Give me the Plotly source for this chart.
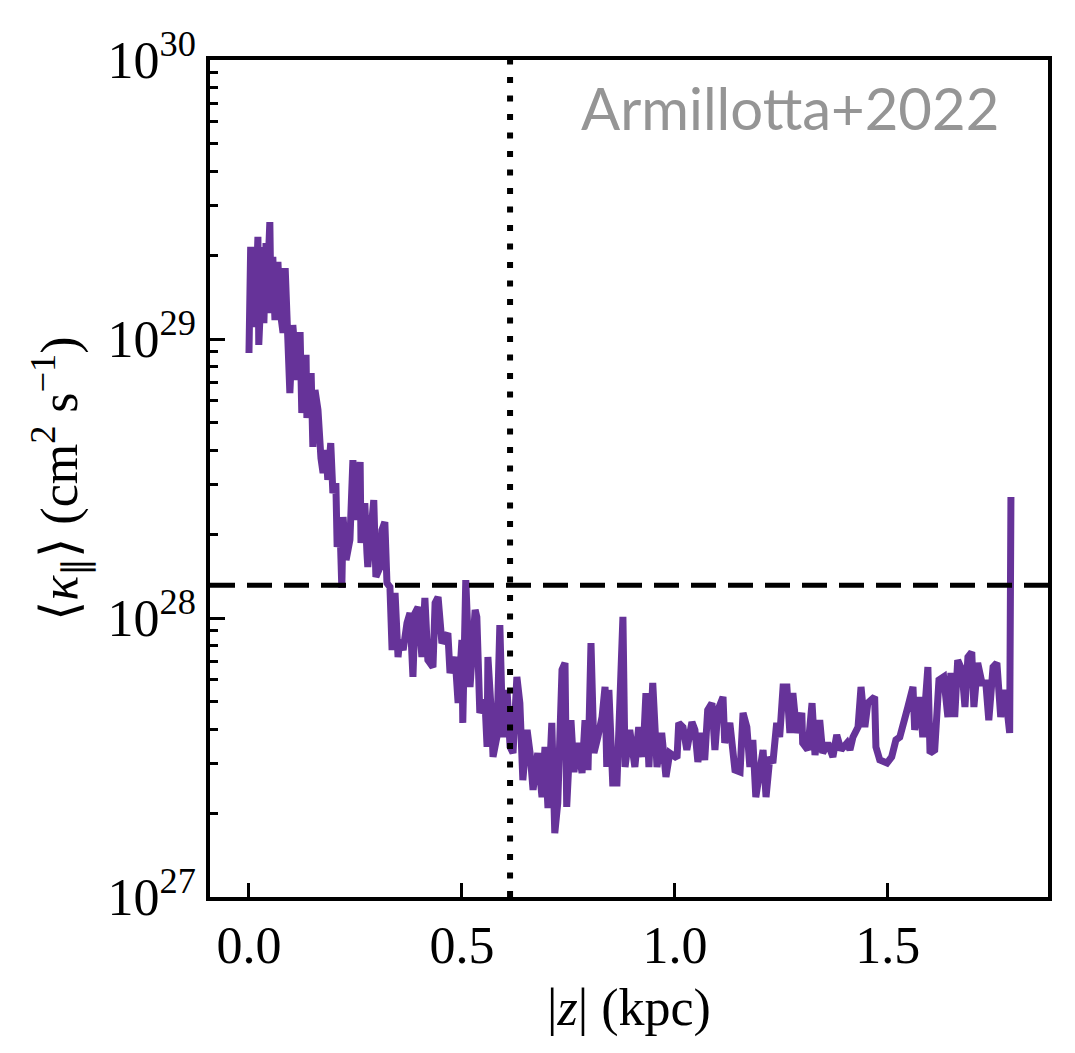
import plotly.graph_objects as go

# |z| in kpc
z_kpc = [
    0.000, 0.004, 0.014, 0.021, 0.023, 0.033, 0.035, 0.040, 0.042, 0.049,
    0.052, 0.056, 0.061, 0.068, 0.073, 0.080, 0.085, 0.089, 0.096, 0.103,
    0.113, 0.120, 0.124, 0.134, 0.136, 0.146, 0.150, 0.155, 0.162, 0.169,
    0.174, 0.181, 0.185, 0.192, 0.197, 0.204, 0.207, 0.214, 0.218, 0.221,
    0.228, 0.237, 0.244, 0.251, 0.261, 0.263, 0.272, 0.277, 0.279, 0.293,
    0.298, 0.308, 0.312, 0.319, 0.324, 0.331, 0.336,
    0.343, 0.350, 0.354, 0.362, 0.371, 0.378, 0.385, 0.390, 0.397, 0.406,
    0.413, 0.420, 0.432, 0.437, 0.444, 0.453, 0.467, 0.472, 0.484, 0.491,
    0.500, 0.502, 0.509, 0.519, 0.531, 0.535, 0.542, 0.554, 0.559, 0.561,
    0.570, 0.573, 0.582, 0.589, 0.596, 0.606, 0.613, 0.620, 0.629, 0.636,
    0.643, 0.653, 0.660, 0.667, 0.678, 0.688, 0.695, 0.702, 0.711, 0.718,
    0.725, 0.735, 0.742, 0.746, 0.756, 0.763, 0.772, 0.782, 0.789, 0.796,
    0.803, 0.810, 0.819, 0.829, 0.836, 0.840, 0.845, 0.854, 0.864, 0.869,
    0.878, 0.883, 0.894, 0.906, 0.915, 0.925, 0.932, 0.939, 0.948, 0.958,
    0.969, 0.979, 0.988, 1.005, 1.009, 1.019, 1.028, 1.040, 1.047, 1.054,
    1.063, 1.070, 1.077, 1.087, 1.094, 1.101, 1.113, 1.117, 1.129, 1.141,
    1.153, 1.160, 1.169, 1.176, 1.183, 1.190, 1.200, 1.207, 1.214, 1.223,
    1.230, 1.239, 1.246, 1.254, 1.263, 1.270, 1.277, 1.286,
    1.298, 1.300, 1.312, 1.322, 1.329, 1.340, 1.347, 1.359, 1.371, 1.380,
    1.390, 1.404, 1.411, 1.418, 1.430, 1.437, 1.446, 1.453, 1.469, 1.472,
    1.481, 1.498, 1.509, 1.519, 1.528, 1.538, 1.547, 1.559, 1.563, 1.575,
    1.582, 1.594, 1.599, 1.610, 1.620, 1.631, 1.641, 1.648, 1.657, 1.664,
    1.674, 1.681, 1.688, 1.697, 1.702, 1.711, 1.721, 1.730, 1.737, 1.747,
    1.756, 1.765, 1.775, 1.786, 1.789,
]

# log10 of <kappa_parallel> in cm^2 s^-1
log_kappa = [
    28.950, 29.330, 29.043, 29.366, 28.979, 29.330, 29.057, 29.344, 29.151, 29.419,
    29.093, 29.294, 29.068, 29.276, 29.104, 29.022, 29.254, 29.007, 28.806, 29.050,
    28.853, 29.025, 28.735, 28.943, 28.717, 28.878, 28.613, 28.817, 28.746, 28.573,
    28.520, 28.602, 28.495, 28.627, 28.448, 28.484, 28.255, 28.315, 28.108, 28.362,
    28.208, 28.280, 28.566, 28.351, 28.559, 28.269, 28.412, 28.233, 28.183, 28.423,
    28.147, 28.183, 28.315, 28.344, 28.125, 28.111, 27.885,
    28.090, 27.860, 27.921, 27.885, 27.982, 28.018, 27.789, 28.018, 28.039, 27.860,
    28.072, 27.849, 27.824, 28.054, 28.075, 27.910, 27.946, 27.803, 27.860, 27.695,
    27.921, 27.624, 28.136, 27.753, 28.029, 28.004, 27.660, 27.706, 27.538, 27.860,
    27.634, 27.502, 27.573, 27.975, 27.573, 27.742, 27.538, 27.516, 27.789, 27.695,
    27.419, 27.599, 27.516, 27.384, 27.516, 27.358, 27.538, 27.319, 27.624, 27.229,
    27.337, 27.814, 27.839, 27.323, 27.634, 27.448, 27.552, 27.444, 27.634, 27.455,
    27.910, 27.516, 27.573, 27.645, 27.753, 27.466, 27.742, 27.409, 27.409, 27.599,
    28.004, 27.466, 27.599, 27.466, 27.609, 27.502, 27.731, 27.466, 27.767, 27.466,
    27.588, 27.430, 27.516, 27.498, 27.624, 27.609, 27.527, 27.627, 27.599, 27.484,
    27.588, 27.491, 27.670, 27.695, 27.527, 27.670, 27.717, 27.552, 27.624, 27.455,
    27.448, 27.660, 27.609, 27.466, 27.563, 27.358, 27.480, 27.527, 27.358, 27.502,
    27.480, 27.624, 27.573, 27.753, 27.753, 27.588, 27.731, 27.588,
    27.660, 27.552, 27.527, 27.695, 27.509, 27.634, 27.516, 27.552, 27.502, 27.581,
    27.527, 27.552, 27.527, 27.573, 27.609, 27.753, 27.609, 27.695, 27.717, 27.538,
    27.491, 27.480, 27.502, 27.563, 27.573, 27.624, 27.681, 27.753, 27.599, 27.717,
    27.573, 27.824, 27.516, 27.527, 27.778, 27.789, 27.645, 27.803, 27.645, 27.849,
    27.814, 27.681, 27.860, 27.878, 27.681, 27.839, 27.767, 27.767, 27.634, 27.824,
    27.839, 27.645, 27.742, 27.588, 28.434,
]

kappa_ref = 1.31e28      # horizontal dashed line
z_ref = 0.613            # vertical dotted line

y_tickvals = [1e27, 1e28, 1e29, 1e30]
y_ticktext = ["10<sup>27</sup>", "10<sup>28</sup>", "10<sup>29</sup>", "10<sup>30</sup>"]
x_tickvals = [0.0, 0.5, 1.0, 1.5]
x_ticktext = ["0.0", "0.5", "1.0", "1.5"]
minor_vals = [float(m) * 10.0 ** e for e in (27, 28, 29) for m in range(2, 10)]

kappa = [10.0 ** v for v in log_kappa]

SERIF = "Liberation Serif, Times New Roman, serif"

fig = go.Figure()
fig.add_trace(go.Scatter(
    x=z_kpc, y=kappa, mode="lines",
    line=dict(color="#663399", width=7),
    showlegend=False,
))

fig.add_shape(type="line", xref="paper", x0=0, x1=1, yref="y", y0=kappa_ref, y1=kappa_ref,
              line=dict(color="black", width=5, dash="25px,12px"), layer="above")
fig.add_shape(type="line", xref="x", x0=z_ref, x1=z_ref, yref="paper", y0=0, y1=1,
              line=dict(color="black", width=6, dash="6px,12.5px"), layer="above")

fig.add_annotation(
    text="Armillotta+2022", xref="paper", yref="paper", x=0.944, y=0.943,
    xanchor="right", yanchor="middle", showarrow=False,
    font=dict(family="Lato, Noto Sans, sans-serif", size=58, color="#959595", weight=400),
)

fig.update_layout(
    width=1075, height=1053,
    margin=dict(l=210, r=27, t=60, b=156),
    paper_bgcolor="white", plot_bgcolor="white",
    font=dict(family=SERIF, size=52, color="black"),
)

fig.update_xaxes(
    range=[-0.0915, 1.876],
    tickvals=x_tickvals, ticktext=x_ticktext,
    ticks="inside", ticklen=14, tickwidth=3, tickcolor="black",
    showline=True, linewidth=3.5, linecolor="black", mirror=True,
    showgrid=False, zeroline=False,
    tickfont=dict(family=SERIF, size=52),
    title=dict(text="|<i>z</i>| (kpc)", font=dict(family=SERIF, size=52), standoff=16),
)

fig.update_yaxes(
    type="log", range=[27, 30],
    tickvals=y_tickvals, ticktext=y_ticktext,
    ticks="inside", ticklen=15, tickwidth=3, tickcolor="black",
    minor=dict(tickvals=minor_vals, ticks="inside", ticklen=8, tickwidth=2.5, tickcolor="black", showgrid=False),
    showline=True, linewidth=3.5, linecolor="black", mirror=True,
    showgrid=False, zeroline=False,
    tickfont=dict(family=SERIF, size=52),
    title=dict(text="⟨<i>κ</i><sub>∥</sub>⟩ (cm<sup>2</sup> s<sup>−1</sup>)",
               font=dict(family=SERIF, size=52), standoff=14),
)

fig.write_html("out.html")
